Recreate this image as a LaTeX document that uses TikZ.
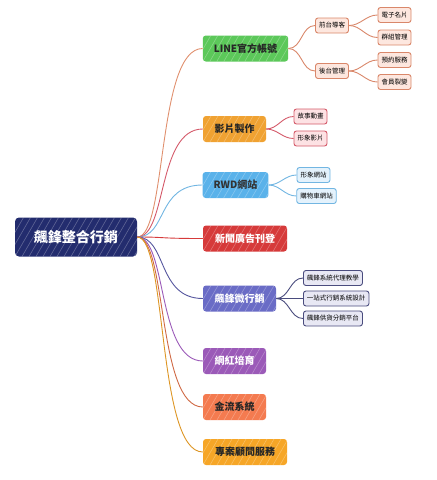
\documentclass[tikz,border=0pt]{standalone}
\usepackage{fontspec}
\setmainfont{Noto Sans CJK TC}
\definecolor{cnavy}{HTML}{232C6E}
\definecolor{cgreen}{HTML}{5CC85A}
\definecolor{corange}{HTML}{F0A232}
\definecolor{cblue}{HTML}{5AB2EA}
\definecolor{cred}{HTML}{D63A3A}
\definecolor{cindigo}{HTML}{6A6CC6}
\definecolor{cpurple}{HTML}{9B5AB8}
\definecolor{corred}{HTML}{F47B50}
\definecolor{cyell}{HTML}{F6A627}
\definecolor{lgreenline}{HTML}{E0906E}
\definecolor{lpeach}{HTML}{FDE7DF}
\definecolor{bpeach}{HTML}{D9876A}
\definecolor{lpink}{HTML}{FDE2E4}
\definecolor{bpink}{HTML}{D45A6A}
\definecolor{lblue}{HTML}{E4F2FC}
\definecolor{bblue}{HTML}{72B6E2}
\definecolor{lind}{HTML}{E8E8F4}
\definecolor{bind}{HTML}{4A4C7E}
\tikzset{
  hatch/.style={path picture={\foreach \k in {0,7,...,210}{\draw[white,opacity=0.28,line width=0.6pt] ([xshift=\k pt-70pt]path picture bounding box.south west) -- ++(60:90pt);}}},
  mainbox/.style={rounded corners=3pt, minimum height=26pt, inner xsep=11pt, font=\fontsize{10}{12}\selectfont\bfseries, hatch},
  subbox/.style={rounded corners=2.5pt, draw, line width=0.9pt, minimum height=15pt, inner xsep=3.5pt, inner ysep=1pt, font=\fontsize{6.5}{8}\selectfont},
  conn/.style={line width=0.9pt},
}
\begin{document}
\begin{tikzpicture}[x=1pt,y=-1pt]
\useasboundingbox (0,0) rectangle (437,480);
% root
\node[rounded corners=4pt, fill=cnavy, text=white, minimum width=122pt, minimum height=39pt, font=\fontsize{14}{16}\selectfont\bfseries, hatch] (root) at (76,237) {飆鋒整合行銷};
% main topics
\node[mainbox, fill=cgreen, text=black!85, minimum width=85pt] (line) at (245.5,48.5) {LINE官方帳號};
\node[mainbox, fill=corange, text=black!85, minimum width=63pt] (video) at (234.5,129) {影片製作};
\node[mainbox, fill=cblue, text=black!80, minimum width=65pt] (rwd) at (235.5,185) {RWD網站};
\node[mainbox, fill=cred, text=white, minimum width=84pt] (news) at (245,238.5) {新聞廣告刊登};
\node[mainbox, fill=cindigo, text=white, minimum width=73pt] (micro) at (239.5,298.5) {飆鋒微行銷};
\node[mainbox, fill=cpurple, text=white, minimum width=63pt] (kol) at (234.5,361) {網紅培育};
\node[mainbox, fill=corred, text=black!85, minimum width=63pt] (pay) at (234.5,407) {金流系統};
\node[mainbox, fill=cyell, text=black!85, minimum width=84pt] (consult) at (245,452) {專案顧問服務};
% root connectors
\draw[conn, color=lgreenline] (root.east) .. controls +(30,0) and +(-46,0) .. (line.west);
\draw[conn, color=bpink] (root.east) .. controls +(30,0) and +(-46,0) .. (video.west);
\draw[conn, color=bblue] (root.east) .. controls +(30,0) and +(-46,0) .. (rwd.west);
\draw[conn, color=cred] (root.east) .. controls +(30,0) and +(-46,0) .. (news.west);
\draw[conn, color=cindigo!80!black] (root.east) .. controls +(30,0) and +(-46,0) .. (micro.west);
\draw[conn, color=cpurple] (root.east) .. controls +(30,0) and +(-46,0) .. (kol.west);
\draw[conn, color=corred!85!black] (root.east) .. controls +(30,0) and +(-46,0) .. (pay.west);
\draw[conn, color=cyell!90!black] (root.east) .. controls +(30,0) and +(-46,0) .. (consult.west);
% LINE subtopics
\node[subbox, fill=lpeach, draw=bpeach] (front) at (332,25.5) {前台導客};
\node[subbox, fill=lpeach, draw=bpeach] (back) at (332,71) {後台管理};
\node[subbox, fill=lpeach, draw=bpeach] (card) at (394.5,15) {電子名片};
\node[subbox, fill=lpeach, draw=bpeach] (group) at (394.5,37.5) {群組管理};
\node[subbox, fill=lpeach, draw=bpeach] (book) at (394.5,60) {預約服務};
\node[subbox, fill=lpeach, draw=bpeach] (member) at (394.5,82) {會員裂變};
\draw[conn, color=bpeach] (line.east) to[out=0,in=180] (front.west);
\draw[conn, color=bpeach] (line.east) to[out=0,in=180] (back.west);
\draw[conn, color=bpeach] (front.east) to[out=0,in=180] (card.west);
\draw[conn, color=bpeach] (front.east) to[out=0,in=180] (group.west);
\draw[conn, color=bpeach] (back.east) to[out=0,in=180] (book.west);
\draw[conn, color=bpeach] (back.east) to[out=0,in=180] (member.west);
% video subtopics
\node[subbox, fill=lpink, draw=bpink] (story) at (310.5,116.5) {故事動畫};
\node[subbox, fill=lpink, draw=bpink] (image) at (310.5,138.5) {形象影片};
\draw[conn, color=bpink] (video.east) to[out=0,in=180] (story.west);
\draw[conn, color=bpink] (video.east) to[out=0,in=180] (image.west);
% rwd subtopics
\node[subbox, fill=lblue, draw=bblue] (site) at (313.5,175) {形象網站};
\node[subbox, fill=lblue, draw=bblue] (cart) at (316.5,196) {購物車網站};
\draw[conn, color=bblue] (rwd.east) to[out=0,in=180] (site.west);
\draw[conn, color=bblue] (rwd.east) to[out=0,in=180] (cart.west);
% micro subtopics
\node[subbox, fill=lind, draw=bind, anchor=west] (m1) at (303,278) {飆鋒系統代理教學};
\node[subbox, fill=lind, draw=bind, anchor=west] (m2) at (303,298.5) {一站式行銷系統設計};
\node[subbox, fill=lind, draw=bind, anchor=west] (m3) at (303,318.5) {飆鋒供貨分銷平台};
\draw[conn, color=bind] (micro.east) to[out=0,in=180] (m1.west);
\draw[conn, color=bind] (micro.east) to[out=0,in=180] (m2.west);
\draw[conn, color=bind] (micro.east) to[out=0,in=180] (m3.west);
\end{tikzpicture}
\end{document}
